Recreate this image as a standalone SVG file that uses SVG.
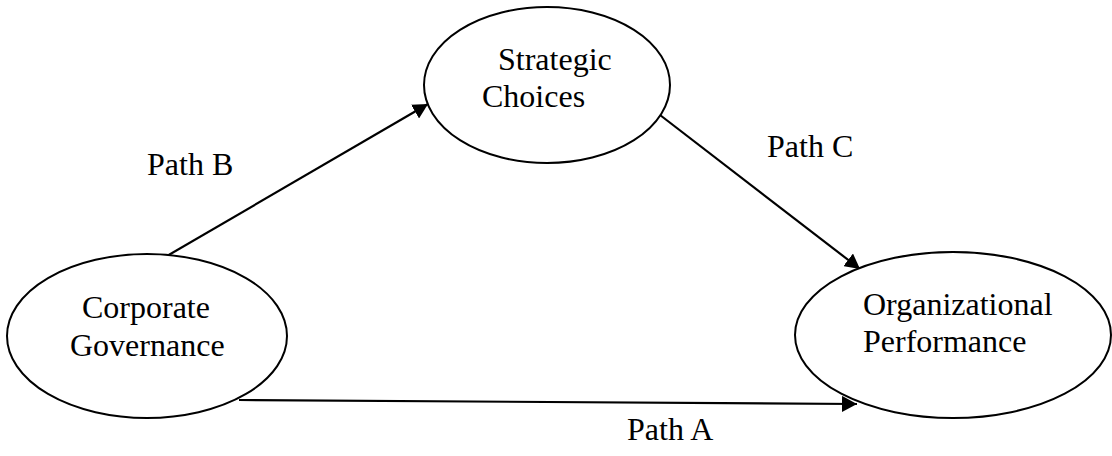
<svg xmlns="http://www.w3.org/2000/svg" width="1112" height="456" viewBox="0 0 1112 456">
<style>
.node ellipse{fill:#fff;stroke:#000;stroke-width:2}
text{font-family:"Liberation Serif","Times New Roman",serif;font-size:32px;fill:#000}
.conn line{stroke:#000;stroke-width:2.2;fill:none}
</style>
<defs>
<marker id="arr" markerUnits="userSpaceOnUse" markerWidth="16" markerHeight="16" refX="15" refY="8" orient="auto">
<path d="M0,0 L15,8 L0,16 z" fill="#000"/>
</marker>
</defs>
<g id="connectors" class="conn">
<line x1="167" y1="256" x2="428" y2="104" marker-end="url(#arr)"/>
<line x1="660" y1="115" x2="860" y2="269" marker-end="url(#arr)"/>
<line x1="239" y1="400" x2="857" y2="404" marker-end="url(#arr)"/>
</g>
<g id="node-strategic" class="node">
<ellipse cx="547" cy="85" rx="123" ry="78"/>
<text x="498" y="70">Strategic</text>
<text x="482" y="107">Choices</text>
</g>
<g id="node-corporate" class="node">
<ellipse cx="147" cy="336" rx="140" ry="82"/>
<text x="82" y="318">Corporate</text>
<text x="70" y="356">Governance</text>
</g>
<g id="node-organizational" class="node">
<ellipse cx="953" cy="335" rx="158" ry="83"/>
<text x="863" y="315">Organizational</text>
<text x="863" y="352">Performance</text>
</g>
<g id="labels">
<text x="147" y="175">Path B</text>
<text x="767" y="157">Path C</text>
<text x="627" y="440">Path A</text>
</g>
</svg>
